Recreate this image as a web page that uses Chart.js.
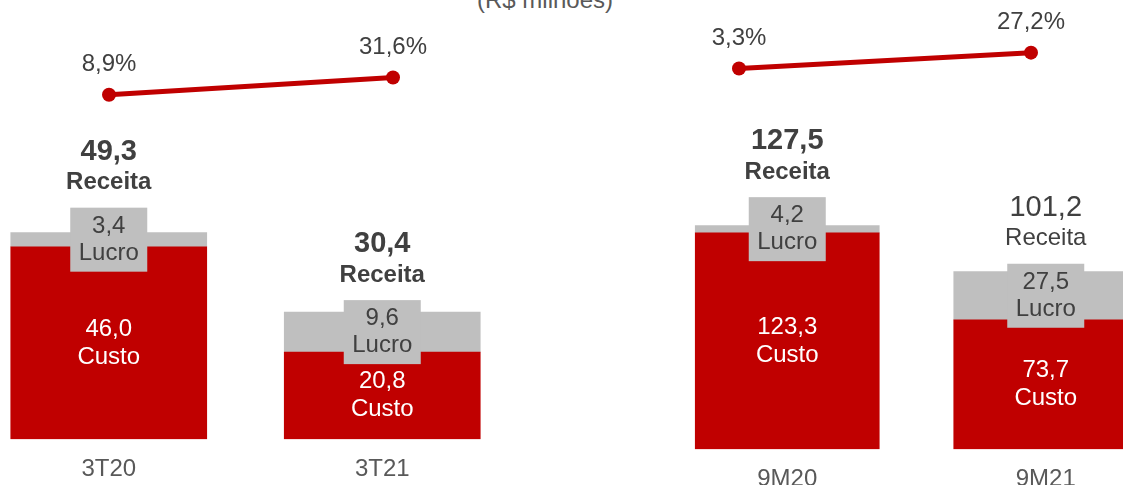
<!DOCTYPE html>
<html lang="pt-BR">
<head>
<meta charset="utf-8">
<title>Receita, custo e lucro</title>
<script src="https://cdn.jsdelivr.net/npm/chart.js@4.4.1/dist/chart.umd.min.js"></script>
<style>
  html, body { margin: 0; padding: 0; background: #fff; }
  body { width: 1123px; height: 485px; overflow: hidden; position: relative; font-family: "Liberation Sans", Arial, sans-serif; }
  canvas { position: absolute; top: 0; }
  #titulo { position: absolute; left: 0; width: 1090px; top: -12px; text-align: center; font-size: 24px; line-height: 24px; color: #595959; }
</style>
</head>
<body>
<div id="titulo">(R$ milhões)</div>
<canvas id="barrasTri" width="547" height="505" style="left:-28px"></canvas>
<canvas id="barrasAcum" width="517" height="510" style="left:658px"></canvas>
<canvas id="margemTri" width="560" height="110" style="left:0"></canvas>
<canvas id="margemAcum" width="563" height="80" style="left:560px"></canvas>
<script>
'use strict';

// trimestre
const trimestres = ['3T20', '3T21'];
const custoTri = [46.0, 20.8];
const lucroTri = [3.4, 9.6];
const receitaTri = [49.3, 30.4];
const margemTri = [8.9, 31.6];

// acumulado 9 meses
const acumulados = ['9M20', '9M21'];
const custoAcum = [123.3, 73.7];
const lucroAcum = [4.2, 27.5];
const receitaAcum = [127.5, 101.2];
const margemAcum = [3.3, 27.2];

const VERMELHO = '#C00000';
const CINZA = '#BFBFBF';
const TEXTO = '#404040';
const FONTE = '"Liberation Sans", Arial, sans-serif';

function fmt(v) {
    return v.toFixed(1).replace('.', ',');
}

// rotulos de custo, lucro (caixa cinza) e receita acima da barra
function rotulosBarras(receita, negrito) {
    return {
        id: 'rotulosBarras',
        afterDatasetsDraw(chart) {
            const ctx = chart.ctx;
            const dsCusto = chart.data.datasets[0].data;
            const dsLucro = chart.data.datasets[1].data;
            ctx.save();
            ctx.textAlign = 'center';
            ctx.textBaseline = 'middle';
            chart.getDatasetMeta(0).data.forEach((bar, i) => {
                const meio = (bar.y + bar.base) / 2;
                ctx.fillStyle = '#fff';
                ctx.font = '24px ' + FONTE;
                ctx.fillText(fmt(dsCusto[i]), bar.x, meio - 14);
                ctx.fillText('Custo', bar.x, meio + 14);
            });
            chart.getDatasetMeta(1).data.forEach((bar, i) => {
                const meio = (bar.y + bar.base) / 2;
                const topo = meio - 32;
                ctx.fillStyle = CINZA;
                ctx.fillRect(bar.x - 38.5, topo, 77, 64);
                ctx.fillStyle = TEXTO;
                ctx.font = '24px ' + FONTE;
                ctx.fillText(fmt(dsLucro[i]), bar.x, meio - 13.5);
                ctx.fillText('Lucro', bar.x, meio + 13.5);

                const peso = negrito[i] ? 'bold ' : '';
                ctx.font = peso + '24px ' + FONTE;
                ctx.fillText('Receita', bar.x, topo - 25);
                ctx.font = peso + '29px ' + FONTE;
                ctx.fillText(fmt(receita[i]), bar.x, topo - 56);
            });
            ctx.restore();
        }
    };
}

const rotulosMargem = {
    id: 'rotulosMargem',
    afterDatasetsDraw(chart) {
        const ctx = chart.ctx;
        const valores = chart.data.datasets[0].data;
        ctx.save();
        ctx.textAlign = 'center';
        ctx.textBaseline = 'middle';
        ctx.fillStyle = TEXTO;
        ctx.font = '24px ' + FONTE;
        chart.getDatasetMeta(0).data.forEach((pt, i) => {
            ctx.fillText(fmt(valores[i]) + '%', pt.x, pt.y - 30);
        });
        ctx.restore();
    }
};

function graficoBarras(id, rotulos, custo, lucro, receita, negrito, yMax, largura, padBaixo) {
    return new Chart(document.getElementById(id), {
        type: 'bar',
        data: {
            labels: rotulos,
            datasets: [
                { label: 'Custo', data: custo, backgroundColor: VERMELHO, barThickness: largura },
                { label: 'Lucro', data: lucro, backgroundColor: CINZA, barThickness: largura }
            ]
        },
        options: {
            responsive: false,
            animation: false,
            layout: { padding: { top: 0, left: 0, right: 0, bottom: padBaixo } },
            plugins: { legend: { display: false }, tooltip: { enabled: false } },
            scales: {
                x: {
                    stacked: true,
                    grid: { display: false, drawTicks: false },
                    border: { display: false },
                    ticks: { color: '#595959', padding: 16, font: { size: 24, family: FONTE } }
                },
                y: { stacked: true, display: false, min: 0, max: yMax }
            }
        },
        plugins: [rotulosBarras(receita, negrito)]
    });
}

function graficoMargem(id, rotulos, margem, yMax, pad) {
    return new Chart(document.getElementById(id), {
        type: 'line',
        data: {
            labels: rotulos,
            datasets: [{
                label: 'Margem',
                data: margem,
                borderColor: VERMELHO,
                backgroundColor: VERMELHO,
                borderWidth: 5,
                pointRadius: 7,
                pointBorderWidth: 0,
                pointBackgroundColor: VERMELHO,
                tension: 0,
                clip: false
            }]
        },
        options: {
            responsive: false,
            animation: false,
            layout: { padding: pad },
            plugins: { legend: { display: false }, tooltip: { enabled: false } },
            scales: {
                x: { display: false, offset: false },
                y: { display: false, min: 0, max: yMax }
            }
        },
        plugins: [rotulosMargem]
    });
}

graficoBarras('barrasTri', trimestres, custoTri, lucroTri, receitaTri, [true, true], 105, 196, 5);
graficoBarras('barrasAcum', acumulados, custoAcum, lucroAcum, receitaAcum, [true, false], 256, 184, 0);
graficoMargem('margemTri', trimestres, margemTri, 124, { top: 0, left: 109, right: 167, bottom: 8.4 });
graficoMargem('margemAcum', acumulados, margemAcum, 96, { top: 0, left: 179, right: 92, bottom: 9.3 });
</script>
</body>
</html>
